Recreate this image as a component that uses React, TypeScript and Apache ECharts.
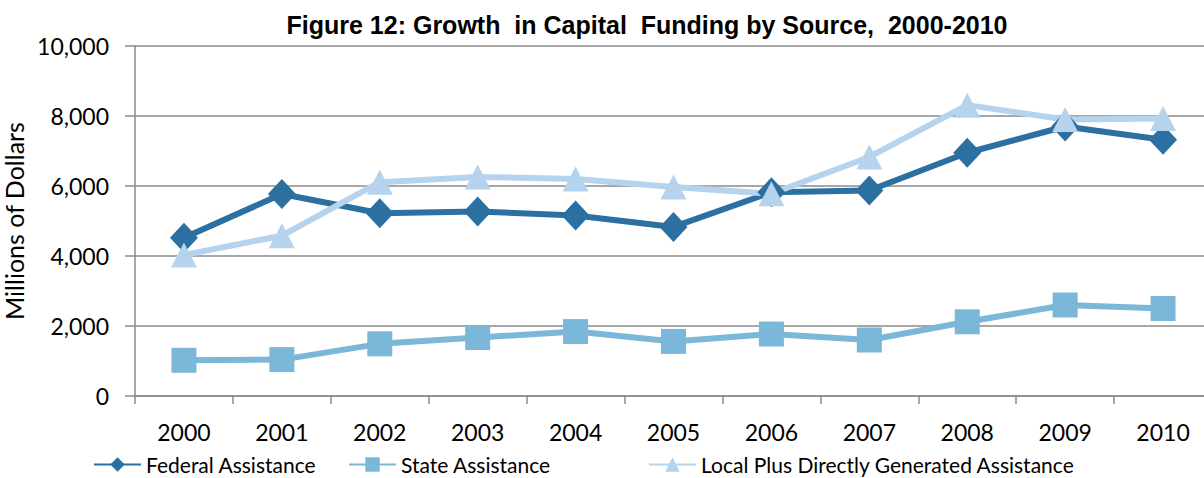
import React, { useEffect, useRef } from "react";
import * as echarts from "echarts";

const years = ["2000", "2001", "2002", "2003", "2004", "2005", "2006", "2007", "2008", "2009", "2010"];
const federal = [4520, 5770, 5220, 5270, 5160, 4830, 5820, 5870, 6950, 7700, 7320];
const state = [1020, 1040, 1490, 1670, 1840, 1560, 1770, 1600, 2120, 2600, 2500];
const local = [4030, 4580, 6110, 6260, 6200, 5970, 5780, 6830, 8310, 7900, 7930];
const yTicks = [0, 2000, 4000, 6000, 8000, 10000];

const seriesNames = ["Federal Assistance", "State Assistance", "Local Plus Directly Generated Assistance"];
const colors = ["#2C6FA1", "#7AB7D9", "#B5D3EC"];

export default function App() {
  const ref = useRef<HTMLDivElement>(null);
  useEffect(() => {
    document.body.style.margin = "0";
    const chart = echarts.init(ref.current!, null, { renderer: "svg" });
    const labelFont = "Lato, 'Open Sans', sans-serif";
    const legendBase = (name: string, left: number) => ({
      data: [name],
      left,
      top: 449,
      itemWidth: 47,
      itemHeight: 18,
      itemGap: 4,
      textStyle: { fontFamily: labelFont, fontSize: 21, color: "#000" },
    });
    chart.setOption({
      animation: false,
      color: colors,
      title: {
        text: "Figure 12: Growth  in Capital  Funding by Source,  2000-2010",
        left: 642,
        textAlign: "center",
        top: 7,
        textStyle: { fontFamily: "'Liberation Sans', Arial, sans-serif", fontWeight: "bold", fontSize: 25, color: "#000" },
      },
      legend: [
        legendBase(seriesNames[0], 88),
        legendBase(seriesNames[1], 343),
        legendBase(seriesNames[2], 643),
      ],
      grid: { left: 135, right: -8, top: 46, bottom: 82, containLabel: false, outerBoundsMode: "none" },
      xAxis: {
        type: "category",
        data: years,
        boundaryGap: true,
        axisLine: { lineStyle: { color: "#8A8A8A", width: 1.5 } },
        axisTick: { show: true, length: 8, lineStyle: { color: "#8A8A8A", width: 1.5 } },
        axisLabel: { fontFamily: labelFont, fontSize: 23, color: "#000", margin: 24 },
      },
      yAxis: {
        type: "value",
        min: yTicks[0],
        max: yTicks[yTicks.length - 1],
        interval: 2000,
        name: "Millions of Dollars",
        nameLocation: "middle",
        nameRotate: 90,
        nameGap: 106,
        nameTextStyle: { fontFamily: labelFont, fontSize: 25, color: "#000" },
        axisLine: { show: true, lineStyle: { color: "#8A8A8A", width: 1.5 } },
        axisTick: { show: true, length: 10, lineStyle: { color: "#8A8A8A", width: 1.5 } },
        splitLine: { show: true, lineStyle: { color: "#8A8A8A", width: 1.5 } },
        axisLabel: {
          fontFamily: labelFont,
          fontSize: 23,
          color: "#000",
          margin: 26,
          formatter: (v: number) => v.toLocaleString("en-US"),
        },
      },
      series: [
        {
          name: seriesNames[0],
          type: "line",
          data: federal,
          symbol: "diamond",
          symbolSize: [28, 30],
          lineStyle: { width: 6, color: colors[0] },
          itemStyle: { color: colors[0] },
        },
        {
          name: seriesNames[1],
          type: "line",
          data: state,
          symbol: "rect",
          symbolSize: 25,
          lineStyle: { width: 6, color: colors[1] },
          itemStyle: { color: colors[1] },
        },
        {
          name: seriesNames[2],
          type: "line",
          data: local,
          symbol: "triangle",
          symbolSize: [26, 25],
          lineStyle: { width: 6, color: colors[2] },
          itemStyle: { color: colors[2] },
        },
      ],
    });
    return () => chart.dispose();
  }, []);
  return <div ref={ref} style={{ width: 1204, height: 478 }} />;
}
